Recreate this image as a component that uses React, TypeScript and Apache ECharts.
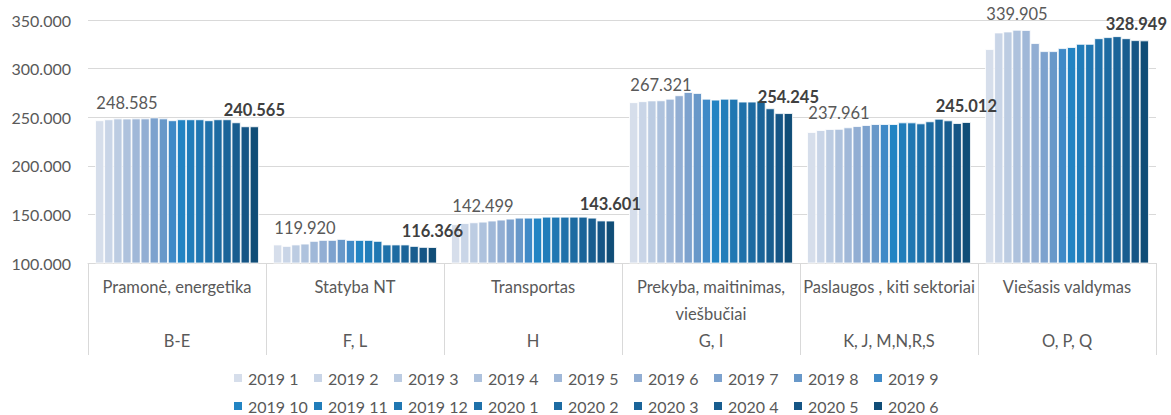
import React, { useEffect, useRef } from "react";
import * as echarts from "echarts";

const months = [
  "2019 1", "2019 2", "2019 3", "2019 4", "2019 5", "2019 6", "2019 7", "2019 8", "2019 9",
  "2019 10", "2019 11", "2019 12", "2020 1", "2020 2", "2020 3", "2020 4", "2020 5", "2020 6",
];

const sectorNames = [
  "Pramonė, energetika",
  "Statyba NT",
  "Transportas",
  "Prekyba, maitinimas,\nviešbučiai",
  "Paslaugos , kiti sektoriai",
  "Viešasis valdymas",
];
const sectorCodes = ["B-E", "F, L", "H", "G, I", "K, J, M,N,R,S", "O, P, Q"];

const pramone = [246800, 247800, 248700, 248585, 248700, 248700, 249700, 248700, 246800, 247800, 247800, 247800, 246800, 247800, 247800, 244700, 240600, 240565];
const statyba = [119000, 117500, 119000, 119920, 122700, 123700, 123700, 124700, 123700, 123700, 123700, 122700, 119000, 119000, 119000, 117500, 116500, 116366];
const transportas = [139800, 141000, 141800, 142499, 143600, 144600, 145600, 146600, 146600, 146600, 147600, 147600, 147600, 147600, 147600, 146600, 143700, 143601];
const prekyba = [265400, 266400, 267200, 267321, 269000, 272500, 275900, 274900, 269000, 268000, 269000, 269000, 266000, 266000, 267000, 259100, 254100, 254245];
const paslaugos = [234700, 236700, 237800, 237961, 239500, 240800, 241900, 242900, 242900, 242900, 244600, 244600, 243600, 245700, 248400, 246700, 243900, 245012];
const viesasis = [320000, 337100, 338100, 339905, 339700, 326200, 317900, 317900, 321000, 322100, 325400, 325400, 331200, 332300, 333300, 331200, 329200, 328949];

const sectors = [pramone, statyba, transportas, prekyba, paslaugos, viesasis];

const colors = [
  "#D6DEEB", "#C9D5E7", "#BCCCE2", "#AEC2DD", "#A0B8D8", "#92AED3", "#7DA2CE", "#6898C9", "#3F8AC7",
  "#2284C3", "#217DBA", "#2077B2", "#1F71AA", "#1D6BA2", "#1A6499", "#185D8F", "#155585", "#104D77",
];

const yTicks = { min: 100000, max: 350000, interval: 50000 };

function fmt(v: number): string {
  const s = Math.round(v).toString();
  return s.replace(/\B(?=(\d{3})+(?!\d))/g, ".");
}

export default function App() {
  const ref = useRef<HTMLDivElement>(null);
  useEffect(() => {
    if (!ref.current) return;
    const chart = echarts.init(ref.current, undefined, { renderer: "svg" });
    const labelSeries = 3;
    const boldSeries = 17;
    const series = months.map((m, si) => {
      const data = sectors.map((arr, ci) => {
        const v = arr[si];
        if (si === boldSeries && ci === sectors.length - 1) {
          return { value: v, label: { offset: [-8, 0] } };
        }
        return v;
      });
      const s: any = {
        type: "bar",
        name: m,
        data,
        barGap: "0%",
        barCategoryGap: "8%",
        itemStyle: { color: colors[si], borderColor: "#ffffff", borderWidth: 0.8 },
        emphasis: { disabled: true },
      };
      if (si === labelSeries) {
        s.label = {
          show: true,
          position: "top",
          distance: 7,
          color: "#595959",
          fontSize: 16.5,
          fontFamily: "Lato",
          formatter: (p: any) => fmt(p.value),
        };
      } else if (si === boldSeries) {
        s.label = {
          show: true,
          position: "top",
          distance: 8,
          color: "#404040",
          fontSize: 16.5,
          fontWeight: "bold",
          fontFamily: "Lato",
          formatter: (p: any) => fmt(p.value),
        };
      }
      return s;
    });

    const legends = [];
    for (let c = 0; c < 9; c++) {
      legends.push({
        data: [months[c], months[c + 9]],
        orient: "vertical",
        left: 232 + 80 * c,
        top: 370,
        itemWidth: 10,
        itemHeight: 10,
        itemGap: 12,
        icon: "rect",
        selectedMode: false,
        padding: 0,
        textStyle: { color: "#595959", fontSize: 16, fontFamily: "Lato", lineHeight: 16 },
      });
    }

    chart.setOption({
      animation: false,
      textStyle: { fontFamily: "Lato" },
      grid: { left: 88, right: 15, top: 20, bottom: 152 },
      legend: legends,
      xAxis: {
        type: "category",
        data: sectorNames,
        axisLine: { show: true, lineStyle: { color: "#d9d9d9" } },
        axisTick: { show: true, length: 92, interval: 0, lineStyle: { color: "#d9d9d9" } },
        axisLabel: {
          interval: 0,
          margin: 10,
          color: "#595959",
          fontSize: 16.5,
          lineHeight: 27,
          fontFamily: "Lato",
          formatter: (v: string, i: number) => {
            const lines = v.split("\n");
            const second = lines.length > 1 ? lines[1] : "";
            return lines[0] + "\n" + second + "\n" + sectorCodes[i];
          },
        },
      },
      yAxis: {
        type: "value",
        min: yTicks.min,
        max: yTicks.max,
        interval: yTicks.interval,
        axisLine: { show: false },
        axisTick: { show: false },
        splitLine: { lineStyle: { color: "#d9d9d9" } },
        axisLabel: {
          color: "#595959",
          fontSize: 16,
          fontFamily: "Lato",
          margin: 17,
          formatter: (v: number) => fmt(v),
        },
      },
      series,
    });
    return () => chart.dispose();
  }, []);
  return (
    <div
      ref={ref}
      style={{ position: "fixed", left: 0, top: 0, width: 1171, height: 415, background: "#ffffff" }}
    />
  );
}
